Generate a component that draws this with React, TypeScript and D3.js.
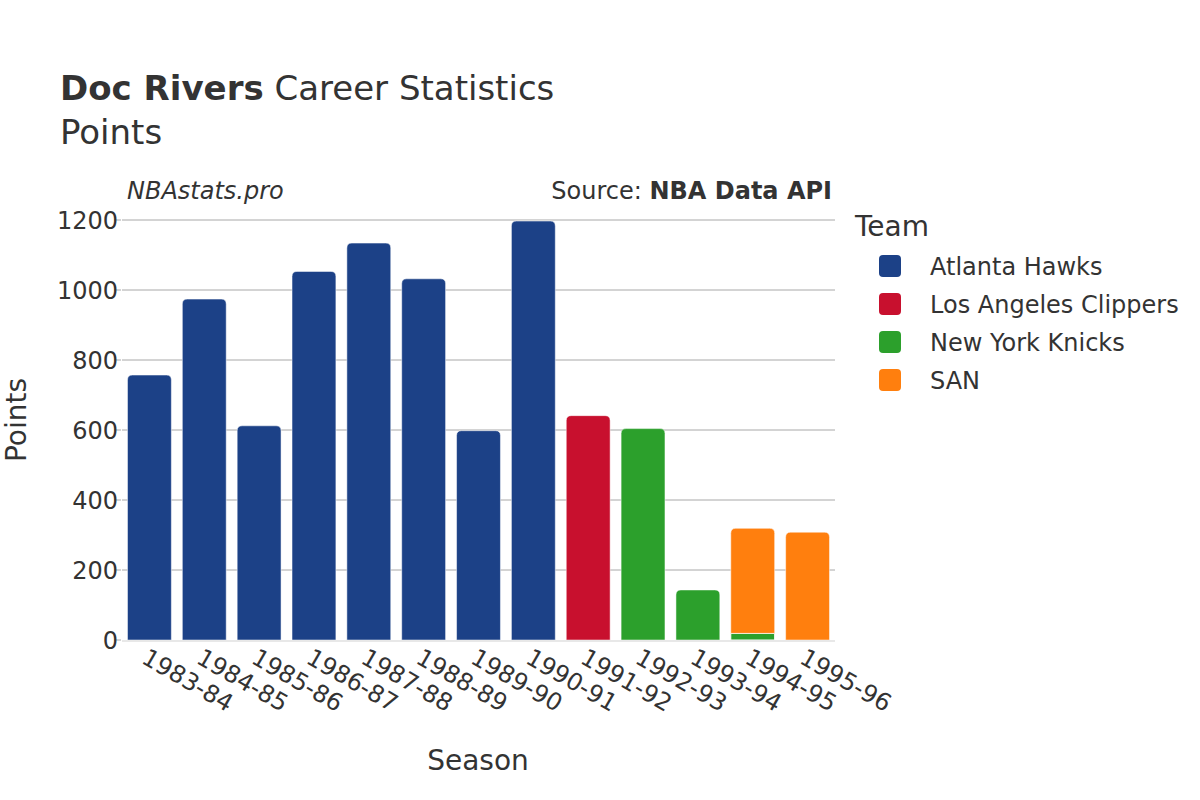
import React from "react";
import * as d3 from "d3";

const seasons = ["1983-84","1984-85","1985-86","1986-87","1987-88","1988-89","1989-90","1990-91","1991-92","1992-93","1993-94","1994-95","1995-96"];
const teams = ["Atlanta Hawks","Los Angeles Clippers","New York Knicks","SAN"];
const teamColors = ["#1c4187","#c8102e","#2ca02c","#ff7f0e"];
const hawks = [757, 974, 612, 1053, 1134, 1032, 598, 1197, 0, 0, 0, 0, 0];
const clippers = [0, 0, 0, 0, 0, 0, 0, 0, 641, 0, 0, 0, 0];
const knicks = [0, 0, 0, 0, 0, 0, 0, 0, 0, 604, 143, 19, 0];
const san = [0, 0, 0, 0, 0, 0, 0, 0, 0, 0, 0, 300, 308];
const yTicks = [0, 200, 400, 600, 800, 1000, 1200];

const FONT = "'DejaVu Sans', sans-serif";
const TXT = "#333";

function topRoundedRect(x: number, y: number, w: number, h: number, r: number) {
  const rr = Math.min(r, h, w / 2);
  return `M${x},${y + h}V${y + rr}Q${x},${y} ${x + rr},${y}H${x + w - rr}Q${x + w},${y} ${x + w},${y + rr}V${y + h}Z`;
}

export default function App() {
  const W = 1200, H = 800;
  const left = 122, right = 835, top = 199, bottom = 640;
  const x = d3.scaleBand<string>().domain(seasons).range([left, right]).paddingInner(0.2).paddingOuter(0.1);
  const y = d3.scaleLinear().domain([0, 1260]).range([bottom, top]);
  const series = [hawks, clippers, knicks, san];
  const stack = d3.stack<number>().keys(teams.map((_, i) => String(i))).value((d, k) => series[+k][d]);
  const stacked = stack(seasons.map((_, i) => i));

  const bars: React.ReactNode[] = [];
  seasons.forEach((s, i) => {
    let topLayer = -1;
    stacked.forEach((layer, li) => { if (series[li][i] > 0) topLayer = li; });
    stacked.forEach((layer, li) => {
      const v = series[li][i];
      if (v <= 0) return;
      const [y0, y1] = layer[i];
      const px = x(s)!;
      const bw = x.bandwidth();
      const yt = y(y1), yb = y(y0);
      const h = yb - yt;
      const isTop = li === topLayer;
      bars.push(
        <path key={`${s}-${li}`} d={isTop ? topRoundedRect(px, yt, bw, h, 5) : `M${px},${yb}V${yt}H${px + bw}V${yb}Z`}
          fill={teamColors[li]} stroke="#fff" strokeWidth={isTop ? 0.5 : 1} />
      );
    });
  });

  return (
    <svg width={W} height={H} style={{ display: "block", position: "absolute", left: 0, top: 0 }} fontFamily={FONT}>
      <rect width={W} height={H} fill="#fff" />
      <text x={60} y={100} fontSize={34} fill={TXT}>
        <tspan fontWeight="bold">Doc Rivers</tspan> Career Statistics
      </text>
      <text x={60} y={144} fontSize={34} fill={TXT}>Points</text>
      <text x={127} y={199} fontSize={24} fontStyle="italic" fill={TXT}>NBAstats.pro</text>
      <text x={832} y={199} fontSize={24} textAnchor="end" fill={TXT}>
        Source: <tspan fontWeight="bold">NBA Data API</tspan>
      </text>
      {yTicks.map(t => (
        <g key={t}>
          {t > 0 && <line x1={left} x2={right} y1={y(t)} y2={y(t)} stroke="#a8a8a8" strokeWidth={1} />}
          <line x1={114} x2={121} y1={y(t)} y2={y(t)} stroke="#a8a8a8" strokeWidth={1} />
          <text x={118} y={y(t)} dy="0.36em" textAnchor="end" fontSize={24} fill={TXT}>{t}</text>
        </g>
      ))}
      {bars}
      <line x1={left} x2={right} y1={bottom + 1} y2={bottom + 1} stroke="#e8e8e8" strokeWidth={2} />
      {seasons.map(s => {
        const cx = x(s)! + x.bandwidth() / 2;
        return (
          <text key={s} transform={`translate(${cx - 5},${655}) rotate(30)`} fontSize={24} fill={TXT} dy="0.35em">{s}</text>
        );
      })}
      <text x={478} y={770} textAnchor="middle" fontSize={28} fill={TXT}>Season</text>
      <text transform={`translate(26,420) rotate(-90)`} textAnchor="middle" fontSize={28} fill={TXT}>Points</text>
      <text x={855} y={236} fontSize={28} fill={TXT}>Team</text>
      {teams.map((t, i) => (
        <g key={t}>
          <rect x={879} y={255 + i * 38} width={22} height={22} rx={4} fill={teamColors[i]} />
          <text x={930} y={266 + i * 38} dy="0.36em" fontSize={24} fill={TXT}>{t}</text>
        </g>
      ))}
    </svg>
  );
}
